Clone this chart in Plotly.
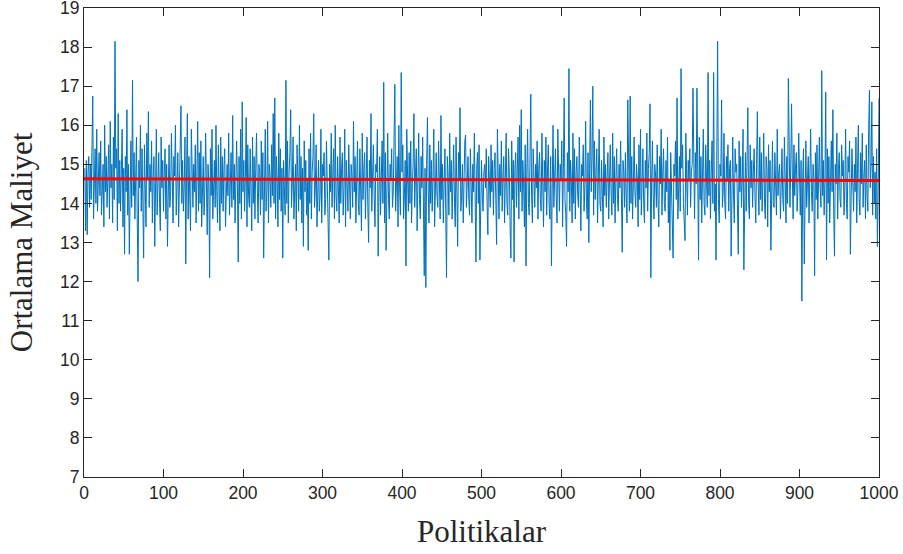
import plotly.graph_objects as go

# Ortalama maliyet per politika (index 1..1000) (estimated)
cost_values = [
14.9,13.3,15.1,13.2,14.8,15.2,13.9,15.0,14.1,15.8,16.75,13.6,14.7,15.4,14.0,15.9,13.8,14.5,15.3,14.2,
15.6,13.7,14.6,15.0,13.4,16.0,14.3,15.2,13.9,14.8,15.5,13.6,16.1,14.4,15.0,13.5,15.7,14.1,18.15,14.9,
15.4,13.3,16.3,14.0,15.1,13.8,14.6,15.9,13.4,14.9,12.7,15.2,14.3,16.4,13.7,15.0,12.7,14.5,15.6,13.9,
17.15,14.2,15.3,13.6,14.8,15.7,13.5,12.0,15.1,14.4,16.0,13.8,15.4,14.1,12.6,15.5,14.0,13.4,15.8,14.6,
16.35,13.9,15.0,14.3,15.6,13.5,14.7,15.2,12.9,14.5,15.9,13.7,14.9,15.3,14.0,13.3,15.7,14.4,15.1,13.8,
14.8,15.4,13.6,15.0,12.9,14.6,15.5,13.9,14.3,15.8,14.1,13.5,15.2,14.7,16.0,13.7,14.5,15.3,13.4,14.9,
15.6,16.5,14.0,15.1,13.8,14.4,15.7,12.45,14.8,16.3,13.6,15.2,14.2,13.3,15.9,14.6,13.9,15.0,14.3,15.5,
13.5,14.7,16.1,13.8,15.3,14.0,15.6,13.4,14.9,15.2,13.7,14.4,15.8,14.1,13.2,15.0,14.5,12.1,15.4,14.2,
15.9,13.6,14.8,15.1,13.9,16.0,14.3,13.5,15.5,14.6,13.3,15.7,14.0,15.2,13.8,14.9,15.4,13.4,14.7,15.0,
14.2,15.8,13.7,14.5,15.3,13.9,16.25,14.1,15.0,13.5,14.8,15.6,14.4,12.5,15.2,14.0,15.9,13.6,16.6,14.3,
15.1,13.8,14.7,16.2,13.4,15.5,14.2,13.9,15.4,14.6,13.3,15.7,14.0,15.2,13.6,14.9,15.8,14.4,13.5,15.0,
14.8,13.7,15.6,14.1,15.3,12.6,14.5,15.9,13.8,14.3,16.1,13.5,15.0,14.7,13.9,15.5,14.2,16.3,14.0,16.7,
13.6,15.2,14.6,13.4,15.8,14.1,15.4,13.8,14.9,12.6,15.1,14.4,13.7,17.15,14.0,15.6,13.5,14.8,15.3,16.4,
13.9,14.5,15.7,13.6,14.2,15.0,13.3,15.5,14.7,13.8,16.0,14.1,15.2,13.5,14.9,12.9,15.6,14.3,15.1,13.7,
14.6,12.8,15.4,14.0,15.8,13.6,14.8,15.2,16.3,13.9,14.4,15.5,13.4,14.9,15.1,13.8,14.2,15.9,13.5,15.0,
14.7,15.3,13.7,14.1,15.6,14.5,13.3,12.55,15.0,14.3,15.8,13.9,14.8,15.4,13.6,16.0,14.2,13.8,15.2,14.6,
13.5,15.7,14.0,14.9,15.3,13.7,14.4,15.9,13.4,15.1,14.6,13.8,15.5,14.2,13.6,15.0,14.7,13.9,16.1,14.3,
15.2,13.5,14.8,15.6,14.0,13.7,15.4,14.5,13.3,15.8,14.1,14.9,15.3,13.6,14.6,15.7,13.9,13.0,15.1,14.4,
16.3,13.8,14.7,15.5,14.2,13.4,15.0,14.8,15.9,12.65,14.3,15.2,13.7,14.9,15.6,14.0,17.1,13.5,15.3,12.8,
14.5,15.8,14.1,13.6,15.0,14.6,15.4,13.9,14.3,15.7,17.05,13.8,14.9,15.2,13.4,16.0,14.4,13.7,17.35,14.8,
15.5,13.6,14.2,15.1,12.4,15.9,14.7,13.8,15.3,14.0,15.6,13.5,14.5,15.0,16.3,13.9,14.8,15.4,13.3,14.6,
15.8,14.1,13.6,15.2,14.4,15.7,13.7,12.15,14.9,11.85,15.0,16.2,14.3,13.5,15.5,14.0,15.1,13.8,14.7,15.9,
13.4,14.6,15.3,14.2,13.9,15.6,14.8,13.6,16.25,14.1,15.0,13.5,14.5,15.4,13.8,12.1,15.2,14.7,13.7,15.8,
14.3,15.1,13.6,14.9,15.5,14.0,13.4,15.7,14.4,12.9,15.3,14.6,16.45,13.8,14.2,15.0,13.5,14.8,15.6,15.75,
13.9,14.5,15.2,14.1,13.7,15.4,14.7,13.5,15.0,14.3,15.8,13.6,12.5,14.9,15.3,14.0,15.5,12.55,14.6,15.1,
14.2,13.8,14.8,15.0,14.4,15.4,14.0,13.2,15.2,14.6,13.9,15.5,14.3,15.1,13.7,14.9,15.3,14.1,12.95,15.9,
14.5,13.6,15.0,14.2,15.6,13.8,14.7,15.2,13.5,14.4,15.8,14.0,13.7,15.4,14.8,13.4,12.6,15.6,14.1,15.1,
12.5,14.9,15.3,13.9,14.6,15.7,13.6,16.0,14.3,16.4,13.8,15.1,14.5,13.4,15.5,12.4,14.8,15.9,14.0,13.7,
15.2,16.8,14.2,13.5,15.4,14.7,13.9,15.0,14.4,15.6,13.6,14.9,15.3,14.1,13.8,15.8,14.6,13.4,15.1,14.3,
15.7,13.7,14.8,15.5,14.0,13.6,15.2,12.4,14.5,16.0,13.9,14.7,15.4,14.2,13.5,15.9,14.4,13.8,15.0,14.6,
15.6,13.4,14.9,16.7,14.1,13.7,12.9,15.3,14.3,17.45,13.8,15.1,14.6,13.5,15.8,14.0,15.4,13.6,14.8,15.2,
14.2,13.9,15.7,14.5,13.3,15.0,14.7,15.5,13.8,14.4,16.1,14.0,13.6,15.3,13.0,14.9,16.65,14.3,15.2,17.0,
13.7,15.6,14.1,14.8,15.4,13.5,14.6,15.9,14.0,13.8,15.1,14.5,13.4,15.7,14.2,15.0,13.9,14.7,15.3,13.6,
14.9,15.5,14.3,13.7,15.8,14.0,15.2,13.5,14.6,15.4,14.1,13.8,15.0,14.4,15.6,13.6,12.75,15.1,14.8,13.9,
15.3,14.2,13.5,16.65,14.7,13.8,16.75,14.0,15.2,13.6,14.5,15.7,14.3,13.9,15.0,14.6,13.4,15.5,14.1,15.9,
13.7,14.8,15.4,14.0,13.5,15.1,14.4,15.8,13.8,14.9,15.3,16.55,12.1,14.6,15.6,14.2,13.6,15.0,14.7,13.9,
15.5,14.1,13.4,15.2,14.5,15.9,13.7,14.8,15.4,14.0,13.8,15.1,14.3,15.7,13.5,14.6,12.8,15.3,14.2,13.9,
12.6,15.0,14.7,15.6,14.1,16.7,13.6,14.4,15.2,13.8,17.45,14.9,15.5,14.0,13.5,13.05,15.8,14.3,13.7,15.1,
14.6,15.4,13.9,14.8,15.0,16.95,14.2,13.6,15.3,14.5,16.95,13.8,12.55,15.7,14.1,15.2,13.5,14.7,15.9,14.0,
13.7,15.5,14.4,13.9,17.35,14.2,15.1,13.6,14.8,15.6,14.0,17.35,13.8,14.5,12.55,15.3,18.15,14.1,13.5,15.0,
14.7,16.65,13.9,14.3,15.8,14.0,13.6,15.2,14.6,15.5,13.8,14.9,15.1,12.65,14.4,15.7,14.2,13.5,15.4,14.8,
15.0,13.7,12.7,15.6,14.3,15.2,13.9,14.6,15.9,12.3,14.1,15.3,13.8,14.7,16.45,14.0,13.6,15.5,14.4,15.1,
13.9,14.8,15.4,14.2,13.5,15.0,16.35,14.5,13.7,15.7,14.1,15.3,13.8,14.6,15.8,14.0,13.6,15.2,14.9,13.4,
15.5,14.3,15.1,12.8,14.7,15.6,14.0,13.9,15.3,14.4,13.7,15.9,14.2,14.8,15.0,13.6,14.5,15.4,14.1,13.8,
15.7,14.6,13.5,15.2,14.0,17.2,14.3,13.9,15.0,16.55,14.7,13.6,15.5,14.2,14.9,15.3,13.8,14.4,15.8,14.1,
13.7,15.1,11.5,14.6,15.4,12.45,14.0,15.6,13.9,14.8,15.2,13.5,14.5,15.9,14.3,13.8,15.0,14.7,12.15,15.3,
14.1,15.5,13.6,14.9,15.7,14.4,13.9,17.4,14.2,15.1,13.7,14.6,16.85,12.55,15.4,14.0,15.2,13.5,14.8,15.6,
14.3,16.4,13.8,12.65,15.0,14.5,15.8,13.6,14.9,15.3,14.1,13.9,15.5,14.7,15.1,13.7,14.4,15.9,14.0,13.6,
15.2,14.8,15.6,12.7,14.2,15.4,14.6,13.8,15.0,14.3,15.7,13.5,14.9,16.0,14.1,13.7,15.3,14.5,15.8,13.9,
14.7,15.1,13.6,15.5,14.2,13.8,15.9,16.9,14.4,15.0,16.6,13.7,15.2,14.0,14.8,13.6,15.4,12.9,14.3,16.7,
]
policy_index = list(range(1, len(cost_values) + 1))

# Red mean/trend line end points
trend_x = [0, 1000]
trend_y = [14.63, 14.59]

x_tick_vals = [0, 100, 200, 300, 400, 500, 600, 700, 800, 900, 1000]
y_tick_vals = [7, 8, 9, 10, 11, 12, 13, 14, 15, 16, 17, 18, 19]

fig = go.Figure()
fig.add_trace(go.Scatter(
    x=policy_index, y=cost_values, mode="lines",
    line=dict(color="#0072BD", width=1), showlegend=False, hoverinfo="skip"))
fig.add_trace(go.Scatter(
    x=trend_x, y=trend_y, mode="lines",
    line=dict(color="#FF0000", width=3), showlegend=False))

axis_common = dict(
    showgrid=False, zeroline=False, showline=True, linecolor="#262626", linewidth=1,
    mirror="allticks", ticks="inside", ticklen=8, tickwidth=1, tickcolor="#262626",
    tickfont=dict(family="Liberation Sans, Arial, sans-serif", size=17.5, color="#262626"),
    ticklabeloverflow="allow", automargin=False,
)
title_font = dict(family="Liberation Serif, Times New Roman, serif", size=31, color="#262626")
fig.update_xaxes(range=[0, 1000], tickvals=x_tick_vals,
                 title=dict(text="Politikalar", standoff=18, font=title_font),
                 **axis_common)
fig.update_yaxes(range=[7, 19.001], tickvals=y_tick_vals,
                 title=dict(text="Ortalama Maliyet", standoff=18, font=title_font),
                 **axis_common)
fig.update_layout(
    width=903, height=554,
    margin=dict(l=84, r=24, t=8, b=77),
    paper_bgcolor="white", plot_bgcolor="white",
)
fig.write_html("out.html", config={"displayModeBar": False},
               post_script="document.body.style.margin='0';document.body.style.overflow='hidden';")
